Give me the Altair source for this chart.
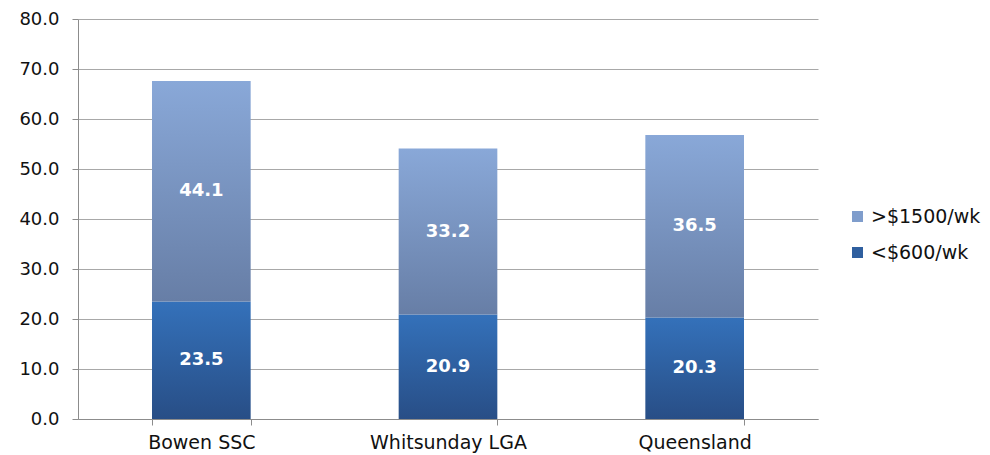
import altair as alt
import pandas as pd

categories = ["Bowen SSC", "Whitsunday LGA", "Queensland"]
low_values = [23.5, 20.9, 20.3]      # <$600/wk
high_values = [44.1, 33.2, 36.5]     # >$1500/wk
series_names = [">$1500/wk", "<$600/wk"]
y_ticks = [0, 10, 20, 30, 40, 50, 60, 70, 80]

df = pd.DataFrame({"category": categories, "low": low_values, "high": high_values})
df["total"] = df["low"] + df["high"]
df["mid_low"] = df["low"] / 2
df["mid_high"] = df["low"] + df["high"] / 2
df["lbl_low"] = df["low"].map(lambda v: f"{v:.1f}")
df["lbl_high"] = df["high"].map(lambda v: f"{v:.1f}")

legend_df = pd.DataFrame({"series": series_names, "category": [categories[0]] * 2, "v": [0, 0]})

FONT = "DejaVu Sans"

x_enc = alt.X(
    "category:N",
    sort=categories,
    scale=alt.Scale(paddingInner=0.6, paddingOuter=0.3),
    axis=alt.Axis(title=None, labelAngle=0, tickBand="extent", ticks=True, tickSize=6,
                  labelPadding=8, labelFontSize=19, labelColor="#111111",
                  domainColor="#8c8c8c", tickColor="#8c8c8c", grid=False),
)
y_scale = alt.Scale(domain=[0, 80], nice=False)
y_axis = alt.Axis(title=None, values=y_ticks, format=".1f", tickSize=6, labelPadding=13,
                  labelFontSize=18, labelColor="#111111", domainColor="#8c8c8c",
                  tickColor="#8c8c8c", grid=True, gridColor="#a8a8a8")

grad_low = alt.Gradient(gradient="linear", x1=0, x2=0, y1=1, y2=0, stops=[
    alt.GradientStop(color="#284e86", offset=0),
    alt.GradientStop(color="#3471ba", offset=1)])
grad_high = alt.Gradient(gradient="linear", x1=0, x2=0, y1=1, y2=0, stops=[
    alt.GradientStop(color="#677ea6", offset=0),
    alt.GradientStop(color="#89a8d8", offset=1)])

base = alt.Chart(df)

bars_low = base.mark_bar(color=grad_low).encode(
    x=x_enc, y=alt.Y("low:Q", scale=y_scale, axis=y_axis))
bars_high = base.mark_bar(color=grad_high).encode(
    x=x_enc, y=alt.Y("total:Q", scale=y_scale), y2="low:Q")

text_low = base.mark_text(color="white", font=FONT, fontSize=18, fontWeight="bold",
                          baseline="middle").encode(x=x_enc, y=alt.Y("mid_low:Q", scale=y_scale), text="lbl_low:N")
text_high = base.mark_text(color="white", font=FONT, fontSize=18, fontWeight="bold",
                           baseline="middle").encode(x=x_enc, y=alt.Y("mid_high:Q", scale=y_scale), text="lbl_high:N")

legend_layer = alt.Chart(legend_df).mark_square(opacity=0).encode(
    x=x_enc,
    y=alt.Y("v:Q", scale=y_scale),
    color=alt.Color("series:N",
                    scale=alt.Scale(domain=series_names, range=["#7f9dcc", "#2f5f9f"]),
                    legend=alt.Legend(title=None, orient="none", legendX=770, legendY=188,
                                      symbolType="square", symbolSize=121, symbolOpacity=1,
                                      symbolStrokeWidth=0, labelFontSize=19, labelFont=FONT,
                                      labelColor="#111111", labelOffset=4, rowPadding=16)),
)

chart = alt.layer(bars_low, bars_high, text_low, text_high, legend_layer).properties(
    width=740, height=400,
    autosize=alt.AutoSizeParams(type="none"),
    padding={"left": 70, "top": 11, "right": 164, "bottom": 36},
).configure_axis(labelFont=FONT).configure_view(stroke=None)

chart.save("out.html", embed_options={"renderer": "svg", "actions": False})
